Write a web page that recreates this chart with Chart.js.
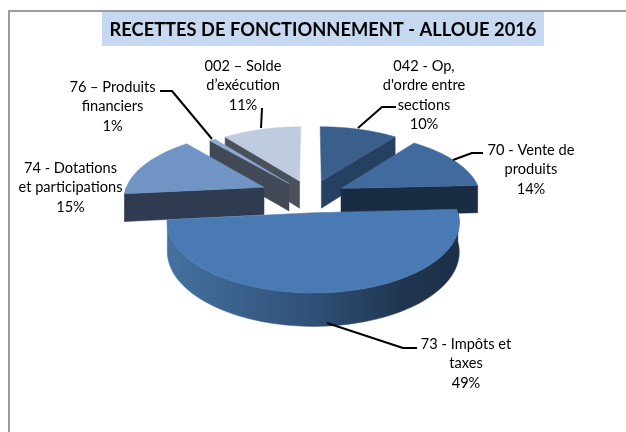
<!DOCTYPE html>
<html><head><meta charset="utf-8">
<style>html,body{margin:0;padding:0;background:#fff}canvas{display:block}</style>
<script src="https://cdn.jsdelivr.net/npm/chart.js@4"></script>
</head><body><canvas id="c" width="626" height="432"></canvas>
<script>
const categories = ["042 - Op, d'ordre entre sections","70 - Vente de produits","73 - Impôts et taxes","74 - Dotations et participations","76 – Produits financiers","002 – Solde d’exécution"];
const values = [10.4,13.9,49.4,15.4,0.8,10.5];
const labelLines = [["042 - Op,","d'ordre entre","sections"],["70 - Vente de","produits"],["73 - Impôts et","taxes"],["74 - Dotations","et participations"],["76 – Produits","financiers"],["002 – Solde","d’exécution"]];
const topColors = ["#3a5f8b","#416b9f","#4a7ab4","#7094c4","#8fabd2","#bfcbdf"];
const sideColors = ["#254061","#1a2b44","#1c3048","#2e3b50","#414956","#4b515b"];
const explode = [35,35,35,51,35,35];
const labelCentres = [[424,66],[531,150],[466,344],[70.5,168],[112.5,87],[243,66]];
const leaders = [[[396,107],[382,107],[358,128]],[[483,153],[472,153],[453,160]],[[417,348],[403,348],[327,323]],[],[[160,91],[172,91],[212,139]],[[262,108],[261,128]]];
const CX=310.5, CY=196, R=140, A=65, T=0.13, DEPTH=28;
const drawOrder=[0,5,4,1,3,2];
function proj(u,v,d){const s=1/(1-T*v);return [CX+u*R*s, CY+A*v*s+(d?DEPTH*s:0)];}
const pie3d={id:'pie3d',
 beforeDatasetDraw(){return false;},
 beforeDraw(chart){const c=chart.ctx;c.save();c.fillStyle='#fff';c.fillRect(0,0,626,432);
  c.strokeStyle='#9c9c9c';c.lineWidth=2;c.beginPath();c.moveTo(9,432);c.lineTo(9,11);c.lineTo(626,11);c.stroke();
  c.fillStyle='#c6d9f1';c.fillRect(102,12,442,34);c.restore();},
 afterDatasetsDraw(chart){
  const c=chart.ctx,arcs=chart.getDatasetMeta(0).data;
  drawOrder.forEach(i=>{
   const el=arcs[i],a1=el.startAngle,a2=el.endAngle,mid=(a1+a2)/2,e=el.options.offset/R;
   const ou=e*Math.cos(mid),ov=e*Math.sin(mid);
   const P=(a,d)=>proj(ou+Math.cos(a),ov+Math.sin(a),d);
   const Ap=d=>proj(ou,ov,d);
   const poly=(pts,fill)=>{c.beginPath();pts.forEach((p,k)=>k?c.lineTo(p[0],p[1]):c.moveTo(p[0],p[1]));c.closePath();c.fillStyle=fill;c.strokeStyle=fill;c.lineWidth=0.5;c.fill();c.stroke();};
   if(Math.cos(a1)<0) poly([Ap(0),P(a1,0),P(a1,1),Ap(1)],sideColors[i]);
   if(Math.cos(a2)>0) poly([Ap(0),P(a2,0),P(a2,1),Ap(1)],sideColors[i]);
   const r1=Math.max(a1,0),r2=Math.min(a2,Math.PI);
   if(r2>r1){const up=[],dn=[];for(let k=0;k<=60;k++){const a=r1+(r2-r1)*k/60;up.push(P(a,0));dn.unshift(P(a,1));}
    let fill=sideColors[i];
    if(i===2){const g=c.createLinearGradient(170,0,460,0);g.addColorStop(0,'#44719f');g.addColorStop(0.5,'#2f4f76');g.addColorStop(0.8,'#203650');g.addColorStop(1,'#1c2f48');fill=g;}
    poly(up.concat(dn),fill);}
   const top=[Ap(0)];for(let k=0;k<=60;k++)top.push(P(a1+(a2-a1)*k/60,0));
   poly(top,el.options.backgroundColor);
  });
  c.save();c.fillStyle='#000';c.strokeStyle='#000';c.lineWidth=2;c.lineJoin='round';
  leaders.forEach(l=>{if(!l.length)return;c.beginPath();l.forEach((p,k)=>k?c.lineTo(p[0],p[1]):c.moveTo(p[0],p[1]));c.stroke();});
  c.font='14.6px Lato';c.textAlign='center';c.textBaseline='middle';
  values.forEach((v,i)=>{const lines=labelLines[i].concat([Math.round(v)+'%']);const [x,y]=labelCentres[i];lines.forEach((t,k)=>c.fillText(t,x,y+k*19.5));});
  c.restore();
 }};
new Chart(document.getElementById('c'),{type:'pie',plugins:[pie3d],
 data:{labels:categories,datasets:[{data:values,backgroundColor:topColors,offset:explode,borderWidth:0}]},
 options:{responsive:false,animation:false,layout:{padding:{left:20}},
  plugins:{legend:{display:false},tooltip:{enabled:false},
   title:{display:true,text:'RECETTES DE FONCTIONNEMENT - ALLOUE 2016',color:'#000',font:{family:'Lato',size:18.3,weight:'bold'},padding:{top:19,bottom:10}}}}});
</script></body></html>
